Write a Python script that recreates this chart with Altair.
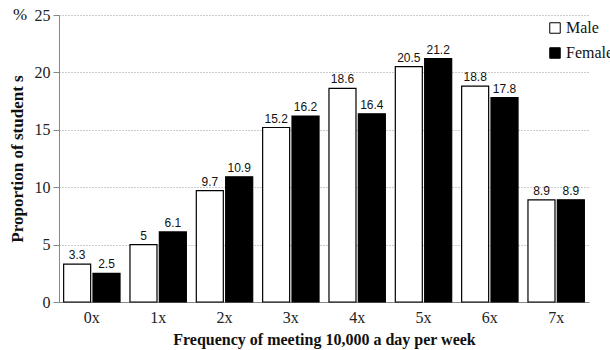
import altair as alt
import pandas as pd

categories = ["0x", "1x", "2x", "3x", "4x", "5x", "6x", "7x"]
male = [3.3, 5, 9.7, 15.2, 18.6, 20.5, 18.8, 8.9]
female = [2.5, 6.1, 10.9, 16.2, 16.4, 21.2, 17.8, 8.9]
groups = ["Male", "Female"]

rows = []
for c, m, f in zip(categories, male, female):
    rows.append({"freq": c, "sex": "Male", "value": m, "label": f"{m:g}"})
    rows.append({"freq": c, "sex": "Female", "value": f, "label": f"{f:g}"})
df = pd.DataFrame(rows)

serif = "Liberation Serif"
sans = "Liberation Sans"

x = alt.X("freq:N", sort=categories, scale=alt.Scale(paddingInner=0.15, paddingOuter=0.07),
          axis=alt.Axis(title="Frequency of meeting 10,000 a day per week", labelAngle=0,
                        labelFont=serif, labelFontSize=16, labelColor="#222",
                        titleFont=serif, titleFontSize=16, titleFontWeight="bold",
                        titleColor="#111", titlePadding=6, ticks=False,
                        domainColor="#888", labelPadding=7))
xoff = alt.XOffset("sex:N", sort=groups, scale=alt.Scale(paddingInner=0.08))
y = alt.Y("value:Q", scale=alt.Scale(domain=[0, 25], nice=False),
          axis=alt.Axis(title="Proportion of student s", values=[0, 5, 10, 15, 20, 25],
                        labelFont=serif, labelFontSize=16, labelColor="#222",
                        titleFont=serif, titleFontSize=17, titleFontWeight="bold",
                        titleColor="#111", titlePadding=8,
                        gridColor="#999", gridDash=[1, 2], gridWidth=1,
                        domainColor="#888", tickColor="#888", tickSize=6, labelPadding=3))

color = alt.Color("sex:N", sort=groups,
                  scale=alt.Scale(domain=groups, range=["white", "black"]),
                  legend=alt.Legend(title=None, orient="none", legendX=488, legendY=5,
                                    symbolType="square", symbolSize=110,
                                    symbolStrokeColor="black", symbolStrokeWidth=1,
                                    labelFont=serif, labelFontSize=16, labelColor="#111",
                                    rowPadding=9, labelOffset=3))

bars = alt.Chart(df).mark_bar(stroke="black", strokeWidth=1.2).encode(
    x=x, xOffset=xoff, y=y, color=color)

labels = alt.Chart(df).mark_text(font=sans, fontSize=12, dy=-9, color="#111").encode(
    x=alt.X("freq:N", sort=categories), xOffset=alt.XOffset("sex:N", sort=groups),
    y="value:Q", text="label:N")

# percent sign sitting left of the top tick label
pct = alt.Chart(pd.DataFrame({"t": ["%"]})).mark_text(
    font=serif, fontSize=17, color="#111", align="left", baseline="middle"
).encode(x=alt.value(-46), y=alt.value(0), text="t:N")

chart = alt.layer(bars, labels, pct).properties(
    width=530, height=287,
    autosize=alt.AutoSizeParams(type="none"),
    padding={"left": 59, "top": 15, "right": 21, "bottom": 48},
).configure_view(stroke=None)

chart.save("out.html", embed_options={"renderer": "svg", "actions": False})
